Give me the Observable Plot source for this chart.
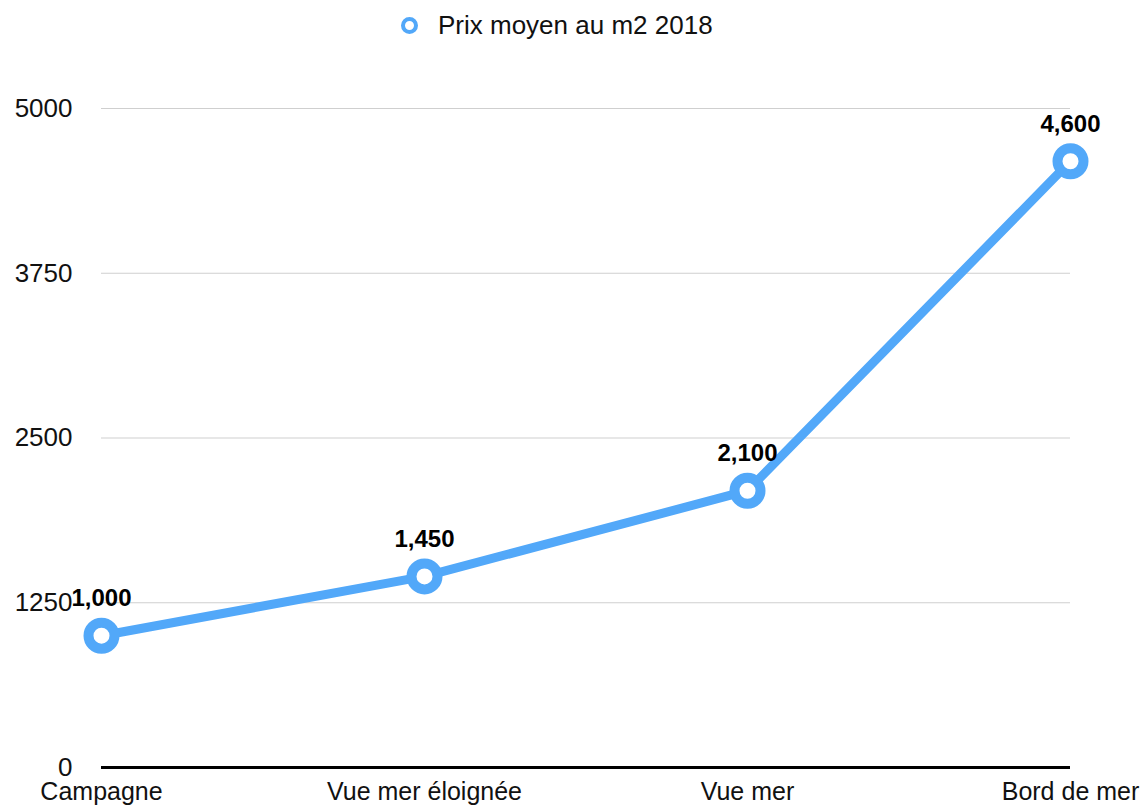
<!DOCTYPE html>
<html>
<head>
<meta charset="utf-8">
<script src="https://cdn.jsdelivr.net/npm/d3@7"></script>
<script src="https://cdn.jsdelivr.net/npm/@observablehq/plot@0.6"></script>
<style>
  html, body { margin: 0; padding: 0; background: #fff; font-family: "Liberation Sans", Arial, sans-serif; }
  #legend { position: relative; height: 50px; width: 1147px; }
  #legend .item { position: absolute; left: 401px; top: 9px; display: flex; align-items: center; font-size: 26px; color: #111; line-height: 32px; }
  #legend .sw { width: 9px; height: 9px; border: 4px solid #52a8f9; border-radius: 50%; background: #fff; margin-right: 20px; }
  #chart svg { display: block; }
</style>
</head>
<body>
<div id="legend"><div class="item"><span class="sw"></span><span>Prix moyen au m2 2018</span></div></div>
<div id="chart"></div>
<script>
const categories = ["Campagne", "Vue mer éloignée", "Vue mer", "Bord de mer"];
const prices = [1000, 1450, 2100, 4600];
const yTicks = [0, 1250, 2500, 3750, 5000];
const seriesName = "Prix moyen au m2 2018";

const data = categories.map((c, i) => ({ category: c, price: prices[i] }));
const blue = "#52a8f9";

const chart = Plot.plot({
  width: 1147,
  height: 757,
  marginTop: 58,
  marginBottom: 40,
  marginLeft: 101,
  marginRight: 77,
  style: { fontFamily: "Liberation Sans, Arial, sans-serif", color: "#111", background: "#fff" },
  x: { type: "point", domain: categories, padding: 0, label: null },
  y: { domain: [0, 5000], label: null },
  marks: [
    Plot.ruleY(yTicks.filter(d => d > 0), { stroke: "#cfcfcf", strokeWidth: 1 }),
    Plot.axisY({ ticks: yTicks, tickSize: 0, tickPadding: 29, fontSize: 26, tickFormat: d => String(d), label: null }),
    Plot.axisX({ tickSize: 0, tickPadding: 15, fontSize: 25, label: null }),
    Plot.ruleY([0], { stroke: "#000", strokeWidth: 3 }),
    Plot.line(data, { x: "category", y: "price", stroke: blue, strokeWidth: 9, strokeLinejoin: "round" }),
    Plot.dot(data, { x: "category", y: "price", r: 13, stroke: blue, strokeWidth: 10, fill: "#fff" }),
    Plot.text(data, { x: "category", y: "price", text: d => d3.format(",")(d.price), dy: -37, fontSize: 24, fontWeight: "bold", fill: "#000" })
  ]
});
document.getElementById("chart").appendChild(chart);
</script>
</body>
</html>
